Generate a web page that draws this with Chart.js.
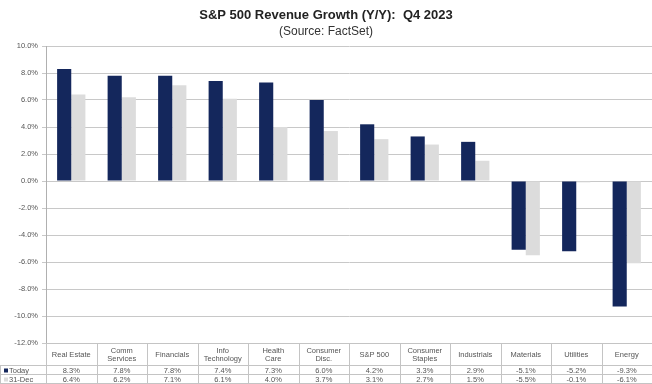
<!DOCTYPE html>
<html>
<head>
<meta charset="utf-8">
<script src="https://cdn.jsdelivr.net/npm/chart.js@4"></script>
<style>
  html, body { margin: 0; padding: 0; background: #fff; }
  #wrap { width: 652px; height: 384px; position: relative; }
</style>
</head>
<body>
<div id="wrap"><canvas id="revChart"></canvas></div>
<script>
const sectors = [
  ['Real Estate'], ['Comm', 'Services'], ['Financials'], ['Info', 'Technology'],
  ['Health', 'Care'], ['Consumer', 'Disc.'], ['S&P 500'], ['Consumer', 'Staples'],
  ['Industrials'], ['Materials'], ['Utilities'], ['Energy']
];
const today = [8.3, 7.8, 7.8, 7.4, 7.3, 6.0, 4.2, 3.3, 2.9, -5.1, -5.2, -9.3];
const dec31 = [6.4, 6.2, 7.1, 6.1, 4.0, 3.7, 3.1, 2.7, 1.5, -5.5, -0.1, -6.1];
const seriesNames = ['Today', '31-Dec'];

const NAVY = '#14275c';
const LIGHT = '#dcdcdc';
const TABLE_LINE = '#c4c4c4';
const TEXT = '#555';

const pct = v => v.toFixed(1) + '%';

// data table under the plot: sector names, then one row per series
const dataTable = {
  id: 'dataTable',
  afterDraw(chart) {
    const { ctx, chartArea, scales: { x } } = chart;
    const top = chartArea.bottom;
    const rows = [top, top + 23, top + 32, top + 41];
    const colW = x.width / sectors.length;
    ctx.save();
    ctx.strokeStyle = TABLE_LINE;
    ctx.lineWidth = 1;
    ctx.beginPath();
    // horizontal rules
    ctx.moveTo(chartArea.left, rows[0] + 0.5); ctx.lineTo(chartArea.right, rows[0] + 0.5);
    for (let r = 1; r < rows.length; r++) {
      ctx.moveTo(0, rows[r] - 0.5); ctx.lineTo(chartArea.right, rows[r] - 0.5);
    }
    // column separators
    for (let i = 0; i <= sectors.length; i++) {
      const xx = Math.round(chartArea.left + i * colW) + 0.5;
      ctx.moveTo(xx, rows[0]); ctx.lineTo(xx, rows[3]);
    }
    ctx.moveTo(0.5, rows[1]); ctx.lineTo(0.5, rows[3]);
    ctx.stroke();

    ctx.fillStyle = TEXT;
    ctx.textAlign = 'center';
    ctx.textBaseline = 'middle';
    ctx.font = '7.5px Arial, "Liberation Sans", sans-serif';
    sectors.forEach((lines, i) => {
      const cx = x.getPixelForValue(i);
      const mid = (rows[0] + rows[1]) / 2;
      lines.forEach((t, j) => {
        ctx.fillText(t, cx, mid + (j - (lines.length - 1) / 2) * 8);
      });
      ctx.fillText(pct(today[i]), cx, (rows[1] + rows[2]) / 2);
      ctx.fillText(pct(dec31[i]), cx, (rows[2] + rows[3]) / 2);
    });

    // legend keys in the row headers
    ctx.textAlign = 'left';
    [NAVY, LIGHT].forEach((c, r) => {
      const cy = (rows[r + 1] + rows[r + 2]) / 2;
      ctx.fillStyle = c;
      ctx.fillRect(4, cy - 2, 4, 4);
      ctx.fillStyle = TEXT;
      ctx.fillText(seriesNames[r], 9, cy);
    });
    ctx.restore();
  }
};

new Chart(document.getElementById('revChart'), {
  type: 'bar',
  data: {
    labels: sectors.map(s => s.join(' ')),
    datasets: [
      { label: seriesNames[0], data: today, backgroundColor: NAVY },
      { label: seriesNames[1], data: dec31, backgroundColor: LIGHT }
    ]
  },
  options: {
    responsive: true,
    maintainAspectRatio: false,
    animation: false,
    layout: { padding: { left: 0, right: 0, top: 0, bottom: 41 } },
    datasets: { bar: { categoryPercentage: 0.56, barPercentage: 1.0 } },
    plugins: {
      legend: { display: false },
      tooltip: { enabled: false },
      title: {
        display: true,
        text: 'S&P 500 Revenue Growth (Y/Y):  Q4 2023',
        color: '#222',
        font: { family: 'Arial, "Liberation Sans", sans-serif', size: 13, weight: 'bold' },
        padding: { top: 8, bottom: 1 }
      },
      subtitle: {
        display: true,
        text: '(Source: FactSet)',
        color: '#333',
        font: { family: 'Arial, "Liberation Sans", sans-serif', size: 12 },
        padding: { top: 0, bottom: 7 }
      }
    },
    scales: {
      x: {
        afterFit: s => { s.height = 0; },
        grid: { display: false },
        border: { color: TABLE_LINE },
        ticks: { display: false }
      },
      y: {
        min: -12, max: 10,
        afterFit: s => { s.width = 46; },
        border: { color: '#b0b0b0' },
        grid: { color: '#c8c8c8', tickLength: 4 },
        ticks: {
          stepSize: 2,
          padding: 4,
          color: TEXT,
          font: { family: 'Arial, "Liberation Sans", sans-serif', size: 7.5 },
          callback: v => pct(v)
        }
      }
    }
  },
  plugins: [dataTable]
});
</script>
</body>
</html>
